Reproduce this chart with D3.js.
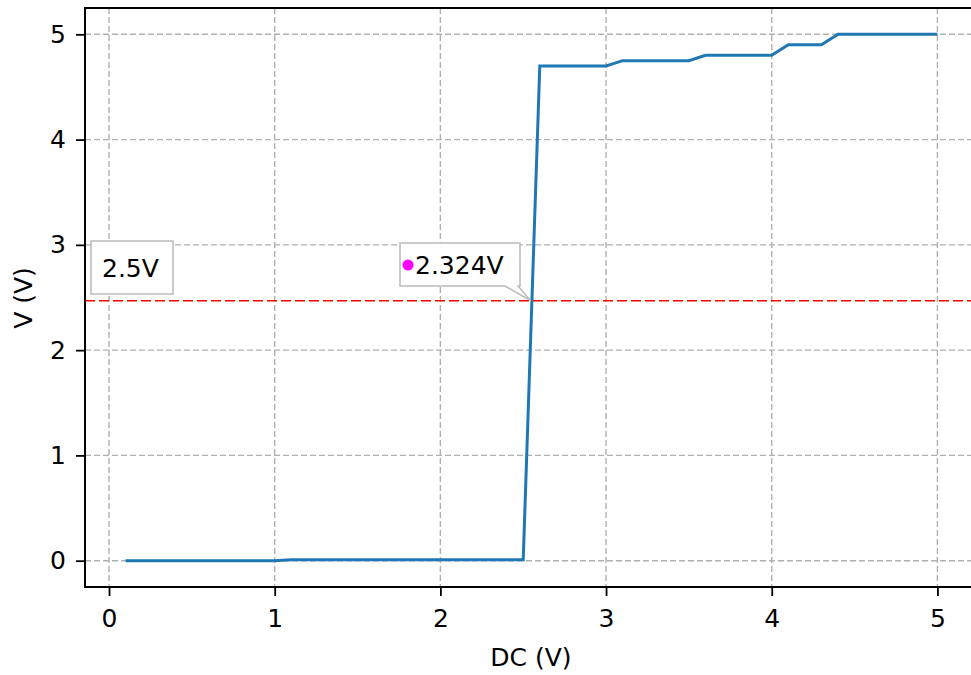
<!DOCTYPE html>
<html lang="en">
<head>
<meta charset="UTF-8">
<title>DC sweep</title>
<script src="https://d3js.org/d3.v7.min.js"></script>
<style>
    body { margin: 0; background: #fff; }
    text { font-family: "DejaVu Sans", sans-serif; fill: #000; }
</style>
</head>
<body>
<script>
// sweep values
var dcValues = [0.1, 0.2, 0.3, 0.4, 0.5, 0.6, 0.7, 0.8, 0.9, 1.0,
                1.1, 1.2, 1.3, 1.4, 1.5, 1.6, 1.7, 1.8, 1.9, 2.0,
                2.1, 2.2, 2.3, 2.4, 2.5, 2.6, 2.7, 2.8, 2.9, 3.0,
                3.1, 3.2, 3.3, 3.4, 3.5, 3.6, 3.7, 3.8, 3.9, 4.0,
                4.1, 4.2, 4.3, 4.4, 4.5, 4.6, 4.7, 4.8, 4.9, 5.0];
var vOut = [0, 0, 0, 0, 0, 0, 0, 0, 0, 0,
            0.01, 0.01, 0.01, 0.01, 0.01, 0.01, 0.01, 0.01, 0.01, 0.01,
            0.01, 0.01, 0.01, 0.01, 0.01, 4.7, 4.7, 4.7, 4.7, 4.7,
            4.75, 4.75, 4.75, 4.75, 4.75, 4.8, 4.8, 4.8, 4.8, 4.8,
            4.9, 4.9, 4.9, 5.0, 5.0, 5.0, 5.0, 5.0, 5.0, 5.0];
var xTicks = [0, 1, 2, 3, 4, 5];
var yTicks = [0, 1, 2, 3, 4, 5];
var threshold = 2.47;
var thresholdLabel = "2.5V";
var crossLabel = "2.324V";
var crossPoint = [2.545, 2.47];

var width = 971, height = 675;
var mLeft = 85, mTop = 8, mBottom = 587, mRight = 978;
var fontSize = "25px";

var x = d3.scaleLinear().domain([-0.145, 5.245]).range([mLeft, mRight]);
var y = d3.scaleLinear().domain([-0.25, 5.25]).range([mBottom, mTop]);

var svg = d3.select("body").append("svg")
    .attr("width", width)
    .attr("height", height);

var plot = svg.append("g");

// grid
var grid = plot.append("g")
    .attr("stroke", "#b0b0b0")
    .attr("stroke-width", 1.4)
    .attr("stroke-dasharray", "6,3");
grid.selectAll(".gx").data(xTicks).enter().append("line")
    .attr("x1", function(d) { return x(d); })
    .attr("x2", function(d) { return x(d); })
    .attr("y1", mTop).attr("y2", mBottom);
grid.selectAll(".gy").data(yTicks).enter().append("line")
    .attr("y1", function(d) { return y(d); })
    .attr("y2", function(d) { return y(d); })
    .attr("x1", mLeft).attr("x2", width);

// threshold line
plot.append("line")
    .attr("x1", mLeft).attr("x2", width)
    .attr("y1", y(threshold)).attr("y2", y(threshold))
    .attr("stroke", "#ff0000")
    .attr("stroke-width", 1.5)
    .attr("stroke-dasharray", "10,4");

// the curve
var line = d3.line()
    .x(function(d, i) { return x(dcValues[i]); })
    .y(function(d) { return y(d); });
plot.append("path")
    .datum(vOut)
    .attr("d", line)
    .attr("fill", "none")
    .attr("stroke", "#1f77b4")
    .attr("stroke-width", 3);

// axes
var xAxis = d3.axisBottom(x).tickValues(xTicks).tickFormat(d3.format("d")).tickSize(9).tickPadding(13);
var yAxis = d3.axisLeft(y).tickValues(yTicks).tickFormat(d3.format("d")).tickSize(9).tickPadding(10);

var gx = svg.append("g").attr("transform", "translate(0," + mBottom + ")").call(xAxis);
var gy = svg.append("g").attr("transform", "translate(" + mLeft + ",0)").call(yAxis);
[gx, gy].forEach(function(g) {
    g.select(".domain").remove();
    g.selectAll("line").attr("stroke", "#000").attr("stroke-width", 1.8);
    g.selectAll("text").style("font-size", fontSize).attr("fill", "#000");
});

// frame (left, top, bottom)
svg.append("path")
    .attr("d", "M" + width + "," + mTop + "H" + mLeft + "V" + mBottom + "H" + width)
    .attr("fill", "none")
    .attr("stroke", "#000")
    .attr("stroke-width", 2);

// labels
svg.append("text")
    .attr("x", 531)
    .attr("y", 666)
    .attr("text-anchor", "middle")
    .style("font-size", fontSize)
    .text("DC (V)");
svg.append("text")
    .attr("transform", "translate(32,298) rotate(-90)")
    .attr("text-anchor", "middle")
    .style("font-size", fontSize)
    .text("V (V)");

// annotation: threshold label box
var ann = svg.append("g");
ann.append("rect")
    .attr("x", 91).attr("y", 241)
    .attr("width", 82).attr("height", 53)
    .attr("fill", "#fff")
    .attr("stroke", "#bbbbbb")
    .attr("stroke-width", 1.5);
ann.append("text")
    .attr("x", 102).attr("y", 277)
    .style("font-size", fontSize)
    .text(thresholdLabel);

// annotation: crossing callout
var tipX = x(crossPoint[0]), tipY = y(crossPoint[1]);
var bx0 = 400, by0 = 243, bx1 = 520, by1 = 286;
ann.append("path")
    .attr("d", "M" + bx0 + "," + by0 + "H" + bx1 + "V" + by1 + "H" + 518 +
        "L" + tipX + "," + tipY + "L" + 505 + "," + by1 + "H" + bx0 + "Z")
    .attr("fill", "#fff")
    .attr("stroke", "#bbbbbb")
    .attr("stroke-width", 1.5);
ann.append("circle")
    .attr("cx", 408).attr("cy", 265).attr("r", 5.5)
    .attr("fill", "#ff00ff");
ann.append("text")
    .attr("x", 415).attr("y", 274)
    .style("font-size", fontSize)
    .text(crossLabel);
</script>
</body>
</html>
